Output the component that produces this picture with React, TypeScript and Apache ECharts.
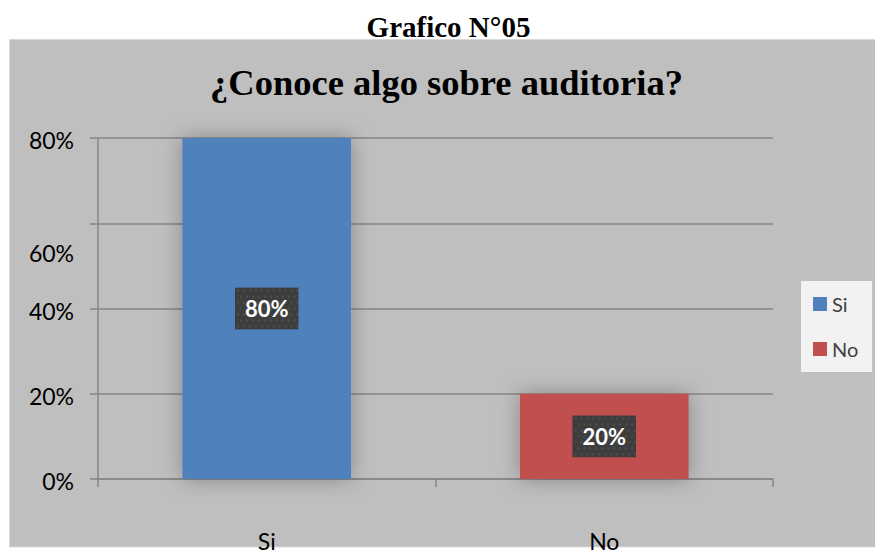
import React, { useEffect, useRef } from "react";
import * as echarts from "echarts";

const headerText = "Grafico N°05";
const chartTitle = "¿Conoce algo sobre auditoria?";
const categories = ["Si", "No"];
const values = [80, 20];
const seriesColors = ["#4F81BD", "#C0504D"];
const yTickLabels = ["0%", "20%", "40%", "60%", "80%"];

function makePattern(w: number, h: number) {
  const c = document.createElement("canvas");
  c.width = w;
  c.height = h;
  const ctx = c.getContext("2d");
  if (ctx) {
    ctx.fillStyle = "#3d3d3d";
    ctx.fillRect(0, 0, w, h);
    ctx.fillStyle = "#505050";
    for (let y = 2; y < h; y += 6) {
      for (let x = ((y / 6) | 0) % 2 ? 5 : 2; x < w; x += 6) {
        ctx.fillRect(x, y, 2, 2);
      }
    }
  }
  return c;
}

export default function App() {
  const ref = useRef<HTMLDivElement>(null);
  useEffect(() => {
    if (!ref.current) return;
    const chart = echarts.init(ref.current, undefined, { renderer: "svg" });
    const pattern = makePattern(64, 42);
    const series = categories.map((name, i) => ({
      name,
      type: "bar",
      data: categories.map((_, j) => (j === i ? values[i] : null)),
      barWidth: "50%",
      barGap: "-100%",
      itemStyle: {
        color: seriesColors[i],
        shadowBlur: 22,
        shadowColor: "rgba(0,0,0,0.3)",
      },
      label: {
        show: true,
        position: "inside",
        formatter: "{c}%",
        color: "#ffffff",
        fontFamily: "Lato",
        fontWeight: "bold",
        fontSize: 22,
        lineHeight: 24,
        padding: [9, 10],
        backgroundColor: { image: pattern },
        shadowBlur: 6,
        shadowColor: "rgba(0,0,0,0.45)",
        shadowOffsetX: 3,
        shadowOffsetY: 4,
      },
    }));
    chart.setOption({
      animation: false,
      backgroundColor: "#ffffff",
      graphic: [
        {
          type: "rect",
          z: -10,
          shape: { x: 9.5, y: 39.5, width: 866, height: 507.5 },
          style: { fill: "#BFBFBF", stroke: "#D9D9D9", lineWidth: 1 },
        },
        {
          type: "rect",
          z: -5,
          shape: { x: 801, y: 281, width: 71, height: 91 },
          style: { fill: "#F2F2F2" },
        },
        {
          type: "text",
          x: 448.5,
          y: 27,
          style: {
            text: headerText,
            fontFamily: "Liberation Serif",
            fontWeight: "bold",
            fontSize: 29,
            fill: "#000",
            align: "center",
            verticalAlign: "middle",
          },
        },
        {
          type: "text",
          x: 446.5,
          y: 82,
          style: {
            text: chartTitle,
            fontFamily: "Liberation Serif",
            fontWeight: "bold",
            fontSize: 36.5,
            fill: "#000",
            align: "center",
            verticalAlign: "middle",
          },
        },
      ],
      legend: {
        orient: "vertical",
        left: 813,
        top: 294,
        padding: 0,
        itemWidth: 14,
        itemHeight: 14,
        itemGap: 25,
        icon: "rect",
        data: categories,
        textStyle: { fontFamily: "Lato", fontSize: 20, color: "#404040" },
      },
      grid: { left: 98, right: 102, top: 138, bottom: 74 },
      xAxis: {
        type: "category",
        data: categories,
        axisLine: { lineStyle: { color: "#868686", width: 1.5 } },
        axisTick: { show: true, length: 8, lineStyle: { color: "#868686", width: 1.5 } },
        axisLabel: { margin: 50, fontFamily: "Lato", fontSize: 23, color: "#000" },
      },
      yAxis: {
        type: "value",
        min: 0,
        max: 80,
        interval: 20,
        axisLine: { show: true, lineStyle: { color: "#868686", width: 1.5 } },
        axisTick: { show: true, length: 8, lineStyle: { color: "#868686", width: 1.5 } },
        splitLine: { lineStyle: { color: "#868686", width: 1.5 } },
        axisLabel: {
          margin: 24,
          fontFamily: "Lato",
          fontSize: 23,
          color: "#000",
          formatter: (v: number, idx: number) => {
            const t = yTickLabels[idx];
            return idx === 3 ? "{s|" + t + "}" : "{n|" + t + "}";
          },
          rich: {
            s: { padding: [60, 0, 0, 0], fontFamily: "Lato", fontSize: 23, color: "#000" },
            n: { padding: [4, 0, 0, 0], fontFamily: "Lato", fontSize: 23, color: "#000" },
          },
        },
      },
      series,
    });
    return () => chart.dispose();
  }, []);
  return (
    <div
      ref={ref}
      style={{ position: "fixed", left: 0, top: 0, width: 875, height: 553 }}
    />
  );
}
